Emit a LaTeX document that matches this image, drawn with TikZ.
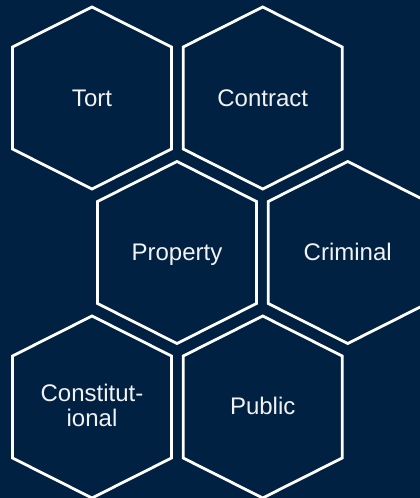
\documentclass[tikz,border=0pt]{standalone}
\usepackage{fontspec}
\setmainfont{Liberation Sans}
\definecolor{bgnavy}{RGB}{0,33,66}
\definecolor{txtwhite}{RGB}{242,242,242}
\begin{document}
\begin{tikzpicture}[x=1pt,y=-1pt,
  hexline/.style={draw=white,line width=2.8pt,line join=miter},
  label/.style={text=txtwhite,font=\fontsize{24}{25}\selectfont,align=center,inner sep=0pt,anchor=base},
  hexcell/.pic={\path[hexline] (0,-91) -- (79.5,-51) -- (79.5,51) -- (0,91) -- (-79.5,51) -- (-79.5,-51) -- cycle;}]
\fill[bgnavy] (0,0) rectangle (420,498);
\useasboundingbox (0,0) rectangle (420,498);
% row 1
\pic at (92,98) {hexcell};
\node[label] (tort) at (92,106) {Tort};
\pic at (262.7,98) {hexcell};
\node[label] (contract) at (262.7,106) {Contract};
% row 2
\pic at (177,252.5) {hexcell};
\node[label] (property) at (177,260) {Property};
\pic at (347.7,252.5) {hexcell};
\node[label] (criminal) at (347.7,260) {Criminal};
% row 3
\pic at (92,407) {hexcell};
\node[label] (constitutional) at (92,426.7) {Constitut-\\ional};
\pic at (262.7,407) {hexcell};
\node[label] (public) at (262.7,414) {Public};
\end{tikzpicture}
\end{document}
